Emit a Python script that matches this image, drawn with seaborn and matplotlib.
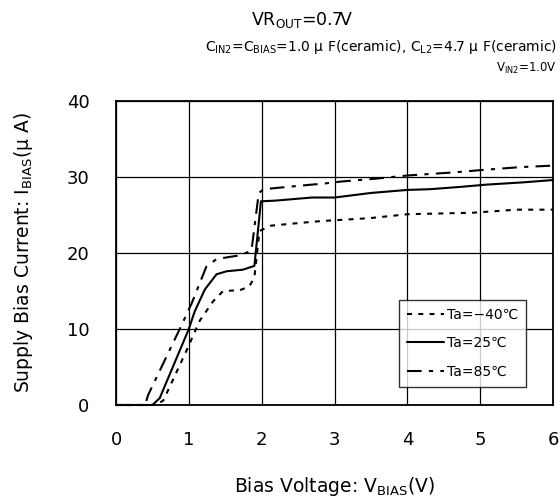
import numpy as np
import pandas as pd
import matplotlib
matplotlib.use("Agg")
import matplotlib.pyplot as plt
import seaborn as sns

# ---- data ----
x_m40 = [0, 0.55, 0.65, 0.97, 1.15, 1.33, 1.47, 1.70, 1.83, 1.90, 1.97, 2.13, 2.69, 2.82, 3.5, 4.0, 4.9, 5.5, 6.0]
y_m40 = [0, 0, 0.6, 7.2, 11.1, 13.6, 15.0, 15.1, 15.6, 16.8, 22.9, 23.6, 24.1, 24.2, 24.6, 25.1, 25.3, 25.7, 25.7]

x_25 = [0, 0.50, 0.60, 1.0, 1.08, 1.22, 1.38, 1.52, 1.74, 1.90, 1.99, 2.2, 2.69, 3.0, 3.5, 4.0, 4.32, 4.73, 5.09, 5.6, 6.0]
y_25 = [0, 0, 0.9, 10.0, 12.3, 15.2, 17.2, 17.6, 17.8, 18.3, 26.8, 26.9, 27.3, 27.3, 27.9, 28.3, 28.4, 28.7, 29.0, 29.3, 29.6]

x_85 = [0, 0.40, 0.44, 0.88, 1.04, 1.24, 1.38, 1.70, 1.86, 1.96, 2.03, 2.69, 2.82, 3.09, 3.59, 4.0, 4.63, 5.0, 5.55, 6.0]
y_85 = [0, 0, 1.3, 10.1, 13.4, 18.2, 19.2, 19.7, 20.3, 27.9, 28.4, 29.0, 29.1, 29.4, 29.8, 30.2, 30.6, 30.9, 31.3, 31.5]

labels = ["Ta=\u221240\u2103", "Ta=25\u2103", "Ta=85\u2103"]
x_ticks = [0, 1, 2, 3, 4, 5, 6]
y_ticks = [0, 10, 20, 30, 40]

sns.set_theme(style="white")
plt.rcParams["font.family"] = ["DejaVu Sans", "Noto Sans CJK JP"]
plt.rcParams["mathtext.fontset"] = "dejavusans"
plt.rcParams["text.color"] = "black"
plt.rcParams["axes.labelcolor"] = "black"

df = pd.concat([
    pd.DataFrame({"V": x_m40, "I": y_m40, "Ta": labels[0]}),
    pd.DataFrame({"V": x_25, "I": y_25, "Ta": labels[1]}),
    pd.DataFrame({"V": x_85, "I": y_85, "Ta": labels[2]}),
], ignore_index=True)

fig = plt.figure(figsize=(5.6, 5.0), dpi=100)
ax = fig.add_axes([116 / 560, 1 - 405 / 500, 437 / 560, 304 / 500])

dashes = {labels[0]: (2.4, 3.0), labels[1]: "", labels[2]: (7, 3.5, 2, 3.5)}
sns.lineplot(data=df, x="V", y="I", hue="Ta", style="Ta", dashes=dashes,
             palette=["black"] * 3, estimator=None, sort=False, lw=1.5, ax=ax)
for ln in ax.lines:
    ln.set_clip_on(False)
    ln.set_zorder(5)

ax.set_xlim(0, 6)
ax.set_ylim(0, 40)
ax.set_xticks(x_ticks)
ax.set_yticks(y_ticks)
ax.tick_params(length=0, labelsize=13, colors="black", pad=19)
ax.grid(True, color="black", lw=0.9)
for s in ax.spines.values():
    s.set_color("black")
    s.set_linewidth(1.3)
    s.set_zorder(4)

ax.set_xlabel("Bias Voltage: V$_\\mathrm{BIAS}$(V)", fontsize=13.5, va="center")
ax.xaxis.set_label_coords(0.5, (405 - 486) / 304)
ax.set_ylabel("Supply Bias Current: I$_\\mathrm{BIAS}$(\u03bc A)", fontsize=13.5, va="center")
ax.yaxis.set_label_coords((23 - 116) / 437, 0.5)

leg = ax.legend(loc="upper right", bbox_to_anchor=(0.938, 0.345), borderaxespad=0,
                fontsize=10, frameon=True, fancybox=False, handlelength=2.7,
                handletextpad=0.2, labelspacing=1.05, borderpad=0.55)
leg.get_frame().set_edgecolor("black")
leg.get_frame().set_linewidth(1.0)
leg.set_title(None)
leg.set_zorder(6)

fig.text(302 / 560, 1 - 20 / 500, "VR$_\\mathrm{OUT}$=0.7V", ha="center", va="center", fontsize=12.5)
fig.text(557 / 560, 1 - 47 / 500,
         "C$_\\mathrm{IN2}$=C$_\\mathrm{BIAS}$=1.0 \u03bc F(ceramic), C$_\\mathrm{L2}$=4.7 \u03bc F(ceramic)",
         ha="right", va="center", fontsize=10)
fig.text(557 / 560, 1 - 68 / 500, "V$_\\mathrm{IN2}$=1.0V", ha="right", va="center", fontsize=8.5)

fig.savefig("out.png", dpi=100)
